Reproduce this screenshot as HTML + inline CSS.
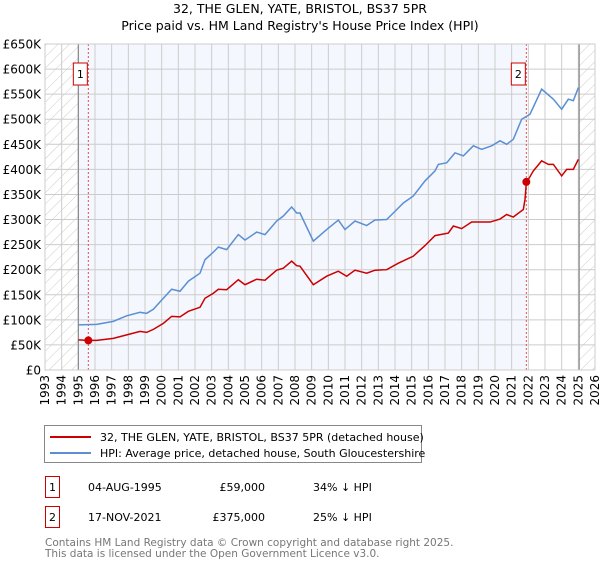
<!DOCTYPE html>
<html><head><meta charset="utf-8"><style>
body{margin:0;background:#fff;font-family:"DejaVu Sans","Liberation Sans",sans-serif;}
svg text{font-family:"DejaVu Sans","Liberation Sans",sans-serif;}
</style></head><body>
<svg id="chart" width="600" height="560" xmlns="http://www.w3.org/2000/svg">
<defs>
<pattern id="hatch" patternUnits="userSpaceOnUse" width="8" height="8" patternTransform="rotate(45)">
<line x1="0" y1="0" x2="0" y2="8" stroke="#ccc" stroke-width="1"/></pattern>
</defs>
<text x="300" y="13" font-size="12.5" text-anchor="middle">32, THE GLEN, YATE, BRISTOL, BS37 5PR</text>
<text x="300" y="30" font-size="12.5" text-anchor="middle">Price paid vs. HM Land Registry's House Price Index (HPI)</text>
<g id="plot"></g>
<g id="legend">
<rect x="44.5" y="425.5" width="377" height="37" fill="#fff" stroke="#888"/>
<line x1="50" y1="437" x2="91" y2="437" stroke="#cc0000" stroke-width="2"/>
<text x="100" y="441" font-size="11">32, THE GLEN, YATE, BRISTOL, BS37 5PR (detached house)</text>
<line x1="50" y1="453" x2="91" y2="453" stroke="#5b8fd4" stroke-width="2"/>
<text x="100" y="457" font-size="11">HPI: Average price, detached house, South Gloucestershire</text>
</g>
<g font-size="11">
<rect x="45.5" y="476.5" width="14" height="21" fill="#fff" stroke="#cc0000"/>
<text x="52.5" y="491" text-anchor="middle">1</text>
<text x="88" y="491">04-AUG-1995</text>
<text x="265" y="491" text-anchor="end">£59,000</text>
<text x="313" y="491">34% ↓ HPI</text>
<rect x="45.5" y="506.5" width="14" height="21" fill="#fff" stroke="#cc0000"/>
<text x="52.5" y="521" text-anchor="middle">2</text>
<text x="88" y="521">17-NOV-2021</text>
<text x="265" y="521" text-anchor="end">£375,000</text>
<text x="313" y="521">25% ↓ HPI</text>
</g>
<g font-size="10.5" fill="#777">
<text x="45" y="546">Contains HM Land Registry data © Crown copyright and database right 2025.</text>
<text x="45" y="557">This data is licensed under the Open Government Licence v3.0.</text>
</g>
</svg>
<script>
const yTicks=[0,50,100,150,200,250,300,350,400,450,500,550,600,650];
const years=[];for(let y=1993;y<=2026;y++)years.push(y);
const hpiX=[1995,1996.1,1997.1,1997.9,1998.7,1999.1,1999.5,2000.1,2000.6,2001.1,2001.6,2002.3,2002.6,2003.1,2003.4,2003.9,2004.6,2005.0,2005.7,2006.2,2006.9,2007.3,2007.8,2008.1,2008.3,2009.1,2009.9,2010.6,2011.0,2011.6,2012.3,2012.8,2013.5,2013.9,2014.5,2015.1,2015.8,2016.4,2016.6,2017.1,2017.6,2018.1,2018.7,2019.2,2019.8,2020.3,2020.7,2021.1,2021.6,2022.1,2022.8,2023.5,2024.0,2024.4,2024.7,2025.0];
const hpiV=[90,91,97,108,115,113,121,143,161,157,177,193,220,235,245,240,270,259,275,270,297,307,325,313,313,257,280,299,280,297,288,299,300,313,333,347,377,397,410,413,433,427,447,440,447,457,450,460,500,510,560,540,520,540,537,563];
const priceX=[1995,1995.6,1996.1,1997.1,1997.9,1998.7,1999.1,1999.5,2000.1,2000.6,2001.1,2001.6,2002.3,2002.6,2003.1,2003.4,2003.9,2004.6,2005.0,2005.7,2006.2,2006.9,2007.3,2007.8,2008.1,2008.3,2009.1,2009.9,2010.6,2011.1,2011.6,2012.3,2012.8,2013.5,2014.2,2015.1,2015.8,2016.4,2017.2,2017.5,2018.0,2018.6,2019.7,2020.3,2020.7,2021.1,2021.7,2021.8,2021.88,2022.3,2022.8,2023.2,2023.5,2024.0,2024.3,2024.7,2025.0];
const priceV=[60,59,59,63,70,77,75,81,93,107,106,117,125,143,153,161,160,180,170,181,179,199,203,217,208,207,170,187,197,187,199,193,199,200,213,227,248,268,273,287,282,295,295,301,310,305,320,340,373,397,417,410,410,387,400,400,420];
const sales=[{x:1995.6,v:59,label:"1"},{x:2021.88,v:375,label:"2"}];
const X0=45,X1=595,Y0=370,Y1=44;
const xs=y=>X0+(y-1993)/33*(X1-X0);
const ys=v=>Y0-v/650*(Y0-Y1);
const NS="http://www.w3.org/2000/svg";
const g=document.getElementById('plot');
function mk(t,a,p){const e=document.createElementNS(NS,t);for(const k in a)e.setAttribute(k,a[k]);(p||g).appendChild(e);return e;}
mk('rect',{x:xs(1995),y:Y1,width:xs(2021.88)-xs(1995),height:Y0-Y1,fill:'#f4f7fd'});
mk('rect',{x:X0,y:Y1,width:xs(1995)-X0,height:Y0-Y1,fill:'url(#hatch)'});
mk('rect',{x:xs(2025.05),y:Y1,width:X1-xs(2025.05),height:Y0-Y1,fill:'url(#hatch)'});
years.forEach(y=>{
 const l=mk('line',{x1:xs(y),x2:xs(y),y1:Y1,y2:Y0,stroke:'#ccc','stroke-width':1});
 
 
 const t=mk('text',{x:0,y:0,'font-size':12,'text-anchor':'end',transform:`translate(${xs(y)+4},${Y0+5}) rotate(-90)`});
 t.textContent=y;
 
 
});
yTicks.forEach(v=>{
 const l=mk('line',{x1:X0,x2:X1,y1:ys(v),y2:ys(v),stroke:'#ccc','stroke-width':1});
 
 
 const t=mk('text',{x:X0-4,y:ys(v)+4.5,'font-size':12,'text-anchor':'end'});
 t.textContent=v===0?'£0':'£'+v+'K';
 
 
});
mk('line',{x1:xs(1995),x2:xs(1995),y1:Y1,y2:Y0,stroke:'#888','stroke-width':1.2});
mk('line',{x1:xs(2025.05),x2:xs(2025.05),y1:Y1,y2:Y0,stroke:'#888','stroke-width':1.2});
sales.forEach(s=>{
 const l=mk('line',{x1:xs(s.x),x2:xs(s.x),y1:Y1,y2:Y0,stroke:'#e05050','stroke-width':1,'stroke-dasharray':'2,2'});
 
 
});
const hp=mk('polyline',{points:hpiX.map((x,i)=>xs(x)+','+ys(hpiV[i])).join(' '),fill:'none',stroke:'#5b8fd4','stroke-width':1.5});


const pp=mk('polyline',{points:priceX.map((x,i)=>xs(x)+','+ys(priceV[i])).join(' '),fill:'none',stroke:'#cc0000','stroke-width':1.5});


sales.forEach(s=>{
 const c=mk('circle',{cx:xs(s.x),cy:ys(s.v),r:4,fill:'#cc0000'});
 
 
 const bx=xs(s.x)-15;
 const r=mk('rect',{x:bx,y:63,width:14,height:22,fill:'#fff',stroke:'#cc0000'});
 
 
 const t=mk('text',{x:bx+7,y:78,'font-size':11,'text-anchor':'middle'});
 t.textContent=s.label;
 
 
});
mk('rect',{x:X0,y:Y1,width:X1-X0,height:Y0-Y1,fill:'none',stroke:'#ccc'});
</script>
</body></html>
